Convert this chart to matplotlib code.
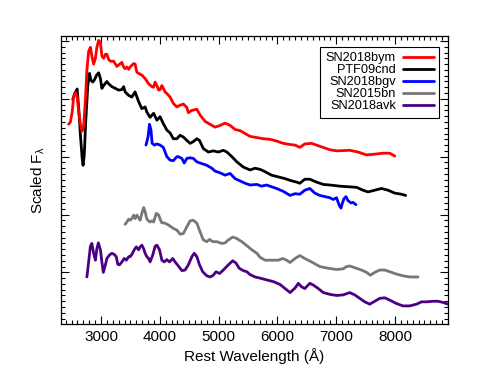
import matplotlib
matplotlib.use("Agg")
import matplotlib.pyplot as plt
from matplotlib.ticker import MultipleLocator

plt.rcParams["font.family"] = ["Liberation Sans", "DejaVu Sans"]
plt.rcParams["mathtext.fontset"] = "custom"
plt.rcParams["mathtext.rm"] = "Liberation Sans"
plt.rcParams["mathtext.it"] = "Liberation Sans:italic"

# spectra (rest wavelength in A, scaled flux with offsets)
bym_wl = [2450, 2480, 2510, 2535, 2565, 2595, 2620, 2650, 2680, 2705, 2735, 2760, 2790, 2820,
          2845, 2875, 2905, 2930, 2960, 2990, 3015, 3045, 3075, 3100, 3130, 3160, 3215, 3270,
          3330, 3355, 3385, 3410, 3440, 3470, 3495, 3555, 3580, 3610, 3640, 3695, 3750, 3810,
          3865, 3895, 3920, 3950, 3980, 4005, 4035, 4060, 4090, 4120, 4175, 4230, 4290, 4345,
          4400, 4460, 4485, 4545, 4630, 4685, 4770, 4855, 4940, 5025, 5110, 5195, 5280, 5365,
          5450, 5535, 5650, 5760, 5875, 5985, 6100, 6215, 6300, 6380, 6465, 6580, 6720, 6890,
          7005, 7230, 7370, 7515, 7625, 7795, 7910, 7995]
bym_fl = [3.56, 3.60, 3.77, 4.03, 4.11, 4.03, 3.79, 3.56, 3.44, 3.53, 3.98, 4.49, 4.82, 4.89,
          4.74, 4.60, 4.70, 4.89, 5.01, 4.98, 4.74, 4.70, 4.77, 4.77, 4.68, 4.65, 4.65, 4.56,
          4.61, 4.63, 4.55, 4.52, 4.55, 4.51, 4.55, 4.61, 4.60, 4.46, 4.44, 4.41, 4.35, 4.26,
          4.21, 4.20, 4.29, 4.23, 4.15, 4.16, 4.23, 4.18, 4.12, 4.09, 4.03, 3.92, 3.86, 3.89,
          3.91, 3.85, 3.76, 3.80, 3.82, 3.72, 3.61, 3.56, 3.51, 3.54, 3.58, 3.54, 3.47, 3.45,
          3.40, 3.35, 3.33, 3.31, 3.30, 3.27, 3.23, 3.21, 3.20, 3.16, 3.22, 3.23, 3.18, 3.12,
          3.10, 3.11, 3.08, 3.03, 3.04, 3.06, 3.06, 3.01]

cnd_wl = [2520, 2555, 2595, 2620, 2650, 2680, 2695, 2715, 2740, 2775, 2805, 2830, 2860, 2890,
          2925, 2960, 2990, 3015, 3045, 3100, 3130, 3185, 3245, 3300, 3355, 3385, 3410, 3470,
          3525, 3580, 3640, 3695, 3750, 3780, 3835, 3895, 3950, 4005, 4060, 4120, 4175, 4230,
          4290, 4345, 4400, 4460, 4515, 4570, 4630, 4675, 4740, 4825, 4910, 4995, 5080, 5140,
          5225, 5310, 5420, 5535, 5620, 5705, 5790, 5900, 6015, 6130, 6215, 6325, 6380, 6465,
          6550, 6665, 6780, 6890, 7060, 7200, 7345, 7455, 7540, 7655, 7770, 7880, 7995, 8110,
          8180]
cnd_fl = [3.99, 4.10, 4.17, 3.85, 3.37, 2.97, 2.85, 3.02, 3.60, 4.22, 4.44, 4.32, 4.29, 4.33,
          4.41, 4.45, 4.35, 4.18, 4.23, 4.30, 4.26, 4.21, 4.18, 4.15, 4.16, 4.21, 4.12, 4.06,
          4.03, 4.12, 3.95, 3.83, 3.86, 3.77, 3.68, 3.75, 3.63, 3.69, 3.57, 3.46, 3.41, 3.31,
          3.31, 3.37, 3.34, 3.28, 3.23, 3.26, 3.31, 3.28, 3.14, 3.08, 3.10, 3.08, 3.11, 3.08,
          3.00, 2.91, 2.82, 2.77, 2.80, 2.78, 2.74, 2.68, 2.65, 2.62, 2.59, 2.56, 2.54, 2.61,
          2.61, 2.56, 2.52, 2.51, 2.49, 2.48, 2.47, 2.42, 2.39, 2.42, 2.45, 2.42, 2.37, 2.35,
          2.33]

bgv_wl = [3765, 3800, 3825, 3850, 3870, 3910, 3950, 4005, 4060, 4120, 4175, 4230, 4290, 4315,
          4375, 4415, 4460, 4515, 4570, 4630, 4715, 4800, 4885, 4940, 5025, 5110, 5195, 5280,
          5365, 5450, 5535, 5650, 5730, 5815, 5900, 5985, 6100, 6215, 6300, 6380, 6465, 6550,
          6635, 6720, 6805, 6890, 6950, 7005, 7050, 7080, 7105, 7130, 7165, 7200, 7250, 7285,
          7335]
bgv_fl = [3.20, 3.34, 3.56, 3.46, 3.23, 3.20, 3.22, 3.20, 3.16, 3.00, 2.94, 2.93, 3.00, 3.00,
          2.97, 2.89, 2.97, 2.98, 2.97, 2.91, 2.88, 2.85, 2.80, 2.75, 2.72, 2.68, 2.71, 2.62,
          2.58, 2.54, 2.51, 2.52, 2.49, 2.51, 2.48, 2.45, 2.40, 2.33, 2.36, 2.35, 2.42, 2.45,
          2.37, 2.33, 2.31, 2.29, 2.26, 2.29, 2.16, 2.11, 2.20, 2.27, 2.31, 2.24, 2.20, 2.21,
          2.17]

bn_wl = [3410, 3440, 3470, 3495, 3525, 3555, 3580, 3610, 3640, 3665, 3695, 3725, 3750, 3780,
         3810, 3835, 3865, 3895, 3940, 3980, 4030, 4090, 4145, 4230, 4290, 4345, 4400, 4460,
         4515, 4570, 4630, 4685, 4740, 4800, 4845, 4900, 4970, 5055, 5110, 5165, 5240, 5300,
         5395, 5480, 5565, 5650, 5705, 5790, 5930, 6015, 6090, 6155, 6215, 6300, 6380, 6465,
         6580, 6720, 6865, 7005, 7115, 7175, 7230, 7315, 7430, 7515, 7580, 7655, 7740, 7825,
         7910, 8025, 8135, 8250, 8390]
bn_fl = [1.83, 1.87, 1.92, 1.90, 1.93, 1.99, 1.93, 1.99, 1.94, 1.90, 2.02, 2.12, 2.05, 1.92,
         1.89, 1.87, 1.89, 1.87, 2.02, 1.99, 1.86, 1.85, 1.82, 1.76, 1.73, 1.66, 1.67, 1.79,
         1.89, 1.90, 1.85, 1.70, 1.56, 1.53, 1.57, 1.53, 1.53, 1.50, 1.51, 1.56, 1.61, 1.59,
         1.53, 1.46, 1.39, 1.33, 1.26, 1.21, 1.21, 1.21, 1.24, 1.21, 1.17, 1.24, 1.29, 1.24,
         1.18, 1.10, 1.07, 1.05, 1.06, 1.10, 1.11, 1.08, 1.04, 1.00, 0.95, 1.00, 1.04, 1.04,
         1.01, 0.97, 0.94, 0.92, 0.92]

avk_wl = [2760, 2790, 2820, 2845, 2875, 2905, 2930, 2955, 2990, 3015, 3040, 3075, 3100, 3145,
          3185, 3225, 3260, 3285, 3315, 3355, 3395, 3430, 3470, 3495, 3525, 3565, 3600, 3640,
          3665, 3695, 3725, 3750, 3780, 3810, 3835, 3880, 3920, 3950, 3995, 4035, 4075, 4120,
          4165, 4220, 4260, 4315, 4375, 4430, 4485, 4545, 4585, 4630, 4675, 4730, 4800, 4855,
          4910, 4955, 5015, 5080, 5165, 5240, 5295, 5350, 5420, 5480, 5535, 5620, 5705, 5815,
          5930, 6045, 6130, 6215, 6300, 6355, 6410, 6465, 6550, 6610, 6695, 6780, 6890, 7005,
          7115, 7230, 7315, 7400, 7485, 7570, 7655, 7740, 7825, 7910, 8025, 8135, 8250, 8365,
          8450, 8535, 8645, 8730, 8815, 8900, 9000]
avk_fl = [0.92, 1.18, 1.45, 1.50, 1.33, 1.21, 1.41, 1.51, 1.39, 1.18, 1.00, 1.13, 1.24, 1.30,
          1.33, 1.31, 1.27, 1.14, 1.13, 1.18, 1.24, 1.21, 1.27, 1.27, 1.31, 1.39, 1.44, 1.39,
          1.44, 1.47, 1.41, 1.33, 1.27, 1.24, 1.18, 1.30, 1.45, 1.47, 1.39, 1.21, 1.18, 1.22,
          1.18, 1.24, 1.18, 1.11, 1.03, 1.04, 1.13, 1.27, 1.33, 1.27, 1.13, 1.01, 0.94, 0.92,
          0.95, 1.01, 0.98, 1.04, 1.13, 1.20, 1.16, 1.07, 1.03, 1.01, 0.96, 0.92, 0.90, 0.87,
          0.84, 0.79, 0.72, 0.65, 0.73, 0.81, 0.75, 0.72, 0.81, 0.78, 0.72, 0.65, 0.62, 0.60,
          0.61, 0.65, 0.61, 0.55, 0.49, 0.45, 0.50, 0.55, 0.56, 0.52, 0.46, 0.42, 0.42, 0.45,
          0.49, 0.49, 0.50, 0.50, 0.48, 0.45, 0.44]

names = ["SN2018bym", "PTF09cnd", "SN2018bgv", "SN2015bn", "SN2018avk"]
colors = ["#ff0000", "#000000", "#0000ff", "#777777", "#4b0082"]

fig = plt.figure(figsize=(4.85, 3.71), dpi=100)
ax = fig.add_axes([61 / 485, 47 / 371, 387 / 485, 288 / 371])

series = [(bym_wl, bym_fl), (cnd_wl, cnd_fl), (bgv_wl, bgv_fl), (bn_wl, bn_fl), (avk_wl, avk_fl)]
for i, (wl, fl) in enumerate(series):
    z = 3 if i == 0 else 2
    ax.plot(wl, fl, color=colors[i], lw=2.0, label=names[i], zorder=z,
            solid_joinstyle="round", solid_capstyle="round")

ax.set_xlim(2320, 8900)
ax.set_ylim(0.107, 5.086)

ax.xaxis.set_major_locator(MultipleLocator(1000))
ax.xaxis.set_minor_locator(MultipleLocator(100))
ax.yaxis.set_major_locator(MultipleLocator(1))
ax.yaxis.set_minor_locator(MultipleLocator(0.1))
ax.tick_params(which="both", direction="in", top=True, right=True, labelleft=False,
               width=0.8, color="black")
ax.tick_params(which="major", length=5.5, labelsize=11, pad=4.5)
ax.tick_params(which="minor", length=2.6)
for sp in ax.spines.values():
    sp.set_linewidth(0.9)

ax.set_xlabel("Rest Wavelength (Å)", fontsize=11, labelpad=3)
ax.set_ylabel("Scaled F$_\\mathrm{\\lambda}$", fontsize=11, labelpad=10)

leg = ax.legend(loc="upper right", bbox_to_anchor=((439.3 - 61) / 387, (324 - 46.7) / 288),
                borderaxespad=0, markerfirst=False, fontsize=9.2, labelspacing=0.0,
                borderpad=0.45, handlelength=2.4, handletextpad=0.55, fancybox=False,
                framealpha=1, edgecolor="black")
leg.get_frame().set_linewidth(0.8)

fig.savefig("out.png", dpi=100)
